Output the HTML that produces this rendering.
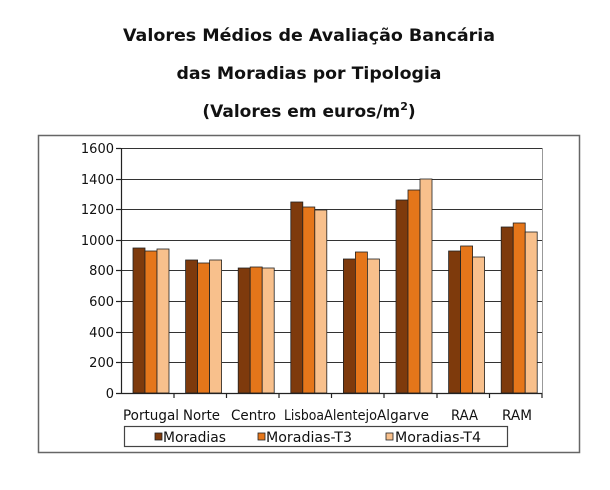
<!DOCTYPE html>
<html><head><meta charset="utf-8"><style>
html,body{margin:0;padding:0;background:#fff;width:610px;height:490px;overflow:hidden}
</style></head><body>
<svg width="610" height="490" xmlns="http://www.w3.org/2000/svg" font-family="DejaVu Sans, Liberation Sans, sans-serif">
<g font-weight="bold" font-size="17" fill="#111" text-anchor="middle">
<text x="309" y="41" textLength="372" lengthAdjust="spacingAndGlyphs">Valores Médios de Avaliação Bancária</text>
<text x="309" y="79" textLength="265" lengthAdjust="spacingAndGlyphs">das Moradias por Tipologia</text>
<text x="309" y="117">(Valores em euros/m<tspan font-size="11" dy="-7">2</tspan><tspan dy="7">)</tspan></text>
</g>
<rect x="38.5" y="135.5" width="541" height="317" fill="none" stroke="#666" stroke-width="1.5"/>
<g stroke="#333" stroke-width="1">
<line x1="121" y1="148.5" x2="542" y2="148.5"/>
<line x1="121" y1="179.5" x2="542" y2="179.5"/>
<line x1="121" y1="209.5" x2="542" y2="209.5"/>
<line x1="121" y1="240.5" x2="542" y2="240.5"/>
<line x1="121" y1="270.5" x2="542" y2="270.5"/>
<line x1="121" y1="301.5" x2="542" y2="301.5"/>
<line x1="121" y1="332.5" x2="542" y2="332.5"/>
<line x1="121" y1="362.5" x2="542" y2="362.5"/>
</g>
<line x1="542.5" y1="148" x2="542.5" y2="393" stroke="#999"/>
<g font-size="13" fill="#111" text-anchor="end">
<text x="114" y="153">1600</text><text x="114" y="184">1400</text><text x="114" y="214">1200</text>
<text x="114" y="245">1000</text><text x="114" y="275">800</text><text x="114" y="306">600</text>
<text x="114" y="337">400</text><text x="114" y="367">200</text><text x="114" y="398">0</text>
</g>
<g stroke="#222" stroke-width="0.8">
<rect x="133" y="248" width="12" height="145" fill="#7E3A0C"/><rect x="145" y="251" width="12" height="142" fill="#E5761A"/><rect x="157" y="249" width="12" height="144" fill="#F8C08C"/>
<rect x="185.6" y="260" width="12" height="133" fill="#7E3A0C"/><rect x="197.6" y="263" width="12" height="130" fill="#E5761A"/><rect x="209.6" y="260" width="12" height="133" fill="#F8C08C"/>
<rect x="238.2" y="268" width="12" height="125" fill="#7E3A0C"/><rect x="250.2" y="267" width="12" height="126" fill="#E5761A"/><rect x="262.2" y="268" width="12" height="125" fill="#F8C08C"/>
<rect x="290.8" y="202" width="12" height="191" fill="#7E3A0C"/><rect x="302.8" y="207" width="12" height="186" fill="#E5761A"/><rect x="314.8" y="210" width="12" height="183" fill="#F8C08C"/>
<rect x="343.4" y="259" width="12" height="134" fill="#7E3A0C"/><rect x="355.4" y="252" width="12" height="141" fill="#E5761A"/><rect x="367.4" y="259" width="12" height="134" fill="#F8C08C"/>
<rect x="396" y="200" width="12" height="193" fill="#7E3A0C"/><rect x="408" y="190" width="12" height="203" fill="#E5761A"/><rect x="420" y="179" width="12" height="214" fill="#F8C08C"/>
<rect x="448.6" y="251" width="12" height="142" fill="#7E3A0C"/><rect x="460.6" y="246" width="12" height="147" fill="#E5761A"/><rect x="472.6" y="257" width="12" height="136" fill="#F8C08C"/>
<rect x="501.2" y="227" width="12" height="166" fill="#7E3A0C"/><rect x="513.2" y="223" width="12" height="170" fill="#E5761A"/><rect x="525.2" y="232" width="12" height="161" fill="#F8C08C"/>
</g>
<g stroke="#222" stroke-width="1.2">
<line x1="121.5" y1="148" x2="121.5" y2="393"/>
<line x1="116" y1="393.5" x2="542" y2="393.5"/>
<line x1="116" y1="148.5" x2="121" y2="148.5"/><line x1="116" y1="179.5" x2="121" y2="179.5"/><line x1="116" y1="209.5" x2="121" y2="209.5"/><line x1="116" y1="240.5" x2="121" y2="240.5"/><line x1="116" y1="270.5" x2="121" y2="270.5"/><line x1="116" y1="301.5" x2="121" y2="301.5"/><line x1="116" y1="332.5" x2="121" y2="332.5"/><line x1="116" y1="362.5" x2="121" y2="362.5"/>
<line x1="174" y1="393" x2="174" y2="398"/><line x1="226.5" y1="393" x2="226.5" y2="398"/><line x1="279" y1="393" x2="279" y2="398"/><line x1="331.5" y1="393" x2="331.5" y2="398"/><line x1="384" y1="393" x2="384" y2="398"/><line x1="437" y1="393" x2="437" y2="398"/><line x1="489.5" y1="393" x2="489.5" y2="398"/><line x1="542" y1="393" x2="542" y2="398"/>
</g>
<g font-size="14" fill="#111">
<text x="123" y="420" textLength="56" lengthAdjust="spacingAndGlyphs">Portugal</text>
<text x="183" y="420" textLength="37" lengthAdjust="spacingAndGlyphs">Norte</text>
<text x="231" y="420" textLength="45" lengthAdjust="spacingAndGlyphs">Centro</text>
<text x="284" y="420" textLength="40" lengthAdjust="spacingAndGlyphs">Lisboa</text>
<text x="324" y="420" textLength="53" lengthAdjust="spacingAndGlyphs">Alentejo</text>
<text x="377" y="420" textLength="52" lengthAdjust="spacingAndGlyphs">Algarve</text>
<text x="451" y="420" textLength="27" lengthAdjust="spacingAndGlyphs">RAA</text>
<text x="502" y="420" textLength="30" lengthAdjust="spacingAndGlyphs">RAM</text>
</g>
<rect x="124.5" y="426.5" width="383" height="20" fill="#fff" stroke="#444" stroke-width="1.2"/>
<g stroke="#222" stroke-width="0.8">
<rect x="155" y="433" width="7" height="7" fill="#7E3A0C"/>
<rect x="258" y="433" width="7" height="7" fill="#E5761A"/>
<rect x="386" y="433" width="7" height="7" fill="#F8C08C"/>
</g>
<g font-size="14" fill="#111">
<text x="163" y="442" textLength="63" lengthAdjust="spacingAndGlyphs">Moradias</text>
<text x="266" y="442" textLength="86" lengthAdjust="spacingAndGlyphs">Moradias-T3</text>
<text x="395" y="442" textLength="86" lengthAdjust="spacingAndGlyphs">Moradias-T4</text>
</g>
</svg>
</body></html>
